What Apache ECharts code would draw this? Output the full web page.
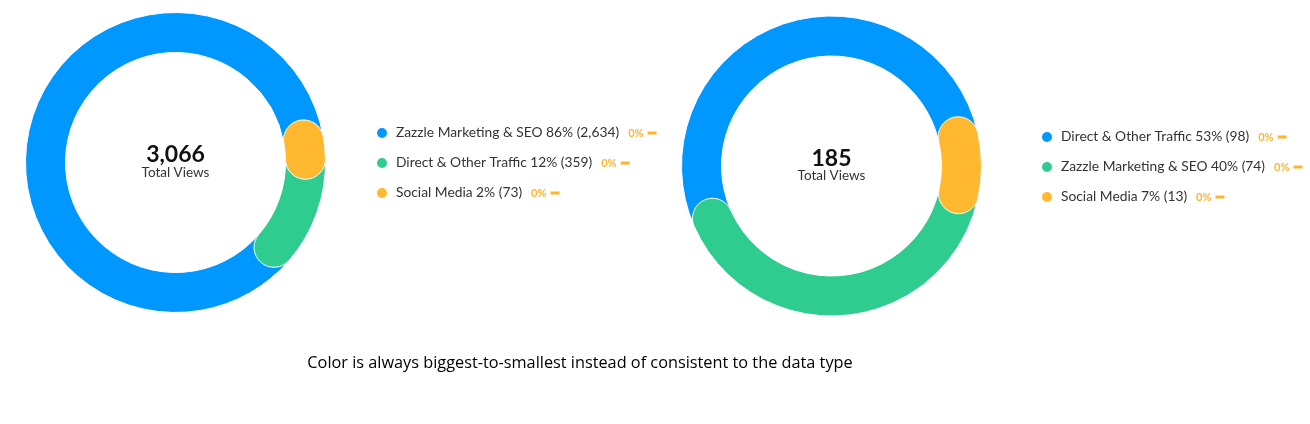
<!DOCTYPE html>
<html>
<head>
<meta charset="utf-8">
<script src="https://cdn.jsdelivr.net/npm/echarts@6/dist/echarts.min.js"></script>
<style>
html, body { margin: 0; padding: 0; background: #fff; }
#main { width: 1310px; height: 424px; }
</style>
</head>
<body>
<div id="main"></div>
<script>
var leftNames = ['Zazzle Marketing & SEO', 'Direct & Other Traffic', 'Social Media'];
var leftValues = [2634, 359, 73];
var rightNames = ['Direct & Other Traffic', 'Zazzle Marketing & SEO', 'Social Media'];
var rightValues = [98, 74, 13];
var changeLabels = ['0%', '0%', '0%'];
var centerLabel = 'Total Views';
var caption = 'Color is always biggest-to-smallest instead of consistent to the data type';

var palette = ['#0098ff', '#2ecc8f', '#ffb830'];
var orange = '#ffb52e';
var textFont = 'Lato';

var sides = [
    { key: 'L', names: leftNames, values: leftValues, center: [175.5, 162.5], start: 10, legendLeft: 375, legendTop: 126 },
    { key: 'R', names: rightNames, values: rightValues, center: [831.5, 166], start: 13, legendLeft: 1040, legendTop: 130 }
];

function sum(arr) {
    return arr.reduce(function (a, b) { return a + b; }, 0);
}
function fmt(n) {
    return n.toLocaleString('en-US');
}

var polar = [], angleAxis = [], radiusAxis = [], series = [], legend = [], graphic = [];
var lookup = {};

sides.forEach(function (side, idx) {
    var total = sum(side.values);
    polar.push({ center: side.center, radius: [110, 150] });
    angleAxis.push({
        polarIndex: idx, type: 'value', min: 0, max: total,
        startAngle: side.start, clockwise: false, show: false
    });
    radiusAxis.push({ polarIndex: idx, type: 'category', data: ['views'], show: false });

    var legendData = [];
    side.values.forEach(function (v, i) {
        var id = side.key + i;
        lookup[id] = side.names[i] + ' ' + Math.round(v / total * 100) + '% (' + fmt(v) + ')';
        legendData.push(id);
        series.push({
            name: id,
            type: 'bar',
            coordinateSystem: 'polar',
            polarIndex: idx,
            stack: side.key,
            roundCap: true,
            barWidth: 40,
            data: [v],
            itemStyle: { color: palette[i], borderColor: '#fff', borderWidth: 1 },
            silent: true
        });
    });

    legend.push({
        data: legendData,
        orient: 'vertical',
        left: side.legendLeft,
        top: side.legendTop,
        padding: 0,
        icon: 'circle',
        itemWidth: 12,
        itemHeight: 12,
        itemGap: 16,
        selectedMode: false,
        formatter: function (name) {
            var i = +name.slice(1);
            return '{t|' + lookup[name] + '}{p|' + changeLabels[i] + '}{d|}';
        },
        textStyle: {
            rich: {
                t: { fontFamily: textFont, fontSize: 13.8, color: '#333', padding: [0, 9, 0, 3] },
                p: { fontFamily: textFont, fontSize: 11, fontWeight: 'bold', color: orange, padding: [0, 4, 0, 0] },
                d: { backgroundColor: orange, width: 9, height: 3 }
            }
        }
    });

    graphic.push({
        type: 'text',
        x: side.center[0], y: side.center[1] - 19,
        style: {
            text: fmt(total), fill: '#111', font: 'bold 23px ' + textFont,
            align: 'center', verticalAlign: 'top'
        }
    });
    graphic.push({
        type: 'text',
        x: side.center[0], y: side.center[1] + 3,
        style: {
            text: centerLabel, fill: '#333', font: '13.5px ' + textFont,
            align: 'center', verticalAlign: 'top'
        }
    });
});

graphic.push({
    type: 'text',
    x: 580, y: 363,
    style: {
        text: caption, fill: '#000', font: '16.3px "Open Sans"',
        align: 'center', verticalAlign: 'middle'
    }
});

var myChart = echarts.init(document.getElementById('main'));
myChart.setOption({
    animation: false,
    polar: polar,
    angleAxis: angleAxis,
    radiusAxis: radiusAxis,
    legend: legend,
    graphic: graphic,
    series: series
});
</script>
</body>
</html>
